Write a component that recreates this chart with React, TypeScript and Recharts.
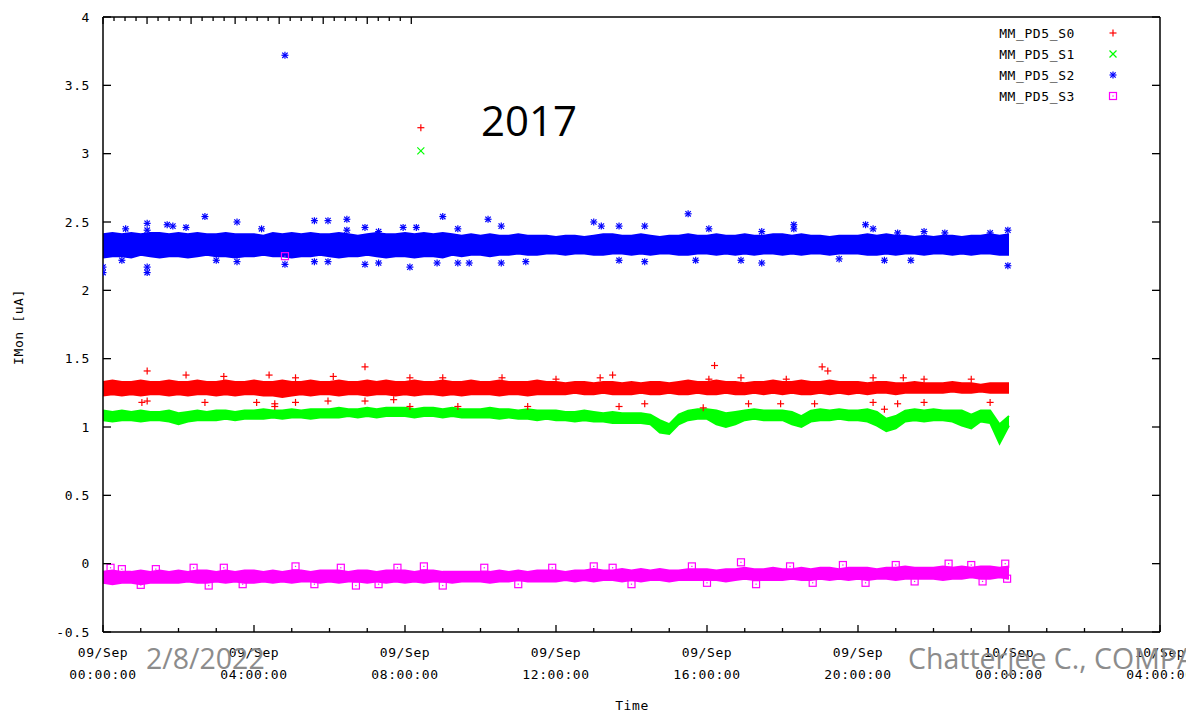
import React from 'react';
import { ComposedChart, Area, Scatter, XAxis, YAxis, Legend } from 'recharts';

// Monitored HV currents of four sectors, 09/Sep 00:00 - 10/Sep 00:00
const SERIES_NAMES = ['MM_PD5_S0', 'MM_PD5_S1', 'MM_PD5_S2', 'MM_PD5_S3'];
const SERIES_COLORS = ['#ff0000', '#00ff00', '#0000ff', '#ff00ff'];

// The dense readings form a band; each band is kept as its low/high envelope
// sampled every quarter hour (hours since 09/Sep 00:00).
const SAMPLE_STEP_H = 0.25;

const S0_HI = [
  1.33, 1.34, 1.33, 1.33, 1.34, 1.33, 1.33, 1.34,
  1.33, 1.33, 1.34, 1.33, 1.33, 1.34, 1.33, 1.33,
  1.34, 1.33, 1.33, 1.34, 1.33, 1.33, 1.34, 1.33,
  1.33, 1.34, 1.33, 1.33, 1.34, 1.33, 1.34, 1.33,
  1.33, 1.34, 1.33, 1.33, 1.34, 1.33, 1.33, 1.34,
  1.33, 1.33, 1.34, 1.33, 1.33, 1.33, 1.34, 1.33,
  1.33, 1.32, 1.33, 1.33, 1.32, 1.33, 1.33, 1.32,
  1.33, 1.32, 1.33, 1.33, 1.32, 1.33, 1.34, 1.33,
  1.33, 1.34, 1.33, 1.33, 1.32, 1.33, 1.33, 1.34,
  1.33, 1.33, 1.34, 1.33, 1.33, 1.34, 1.33, 1.33,
  1.33, 1.32, 1.33, 1.33, 1.32, 1.32, 1.33, 1.32,
  1.32, 1.32, 1.33, 1.32, 1.32, 1.31, 1.32, 1.32, 1.32,
];
const S0_LO = [
  1.23, 1.24, 1.23, 1.24, 1.23, 1.24, 1.24, 1.23,
  1.24, 1.23, 1.24, 1.24, 1.23, 1.24, 1.23, 1.24,
  1.24, 1.23, 1.23, 1.22, 1.23, 1.24, 1.23, 1.24,
  1.24, 1.23, 1.24, 1.24, 1.23, 1.24, 1.24, 1.23,
  1.24, 1.23, 1.24, 1.24, 1.23, 1.24, 1.23, 1.24,
  1.24, 1.24, 1.23, 1.24, 1.24, 1.23, 1.24, 1.24,
  1.24, 1.24, 1.25, 1.24, 1.24, 1.25, 1.24, 1.24,
  1.24, 1.25, 1.24, 1.24, 1.25, 1.24, 1.24, 1.25,
  1.24, 1.24, 1.25, 1.24, 1.24, 1.25, 1.24, 1.25,
  1.24, 1.25, 1.24, 1.24, 1.25, 1.24, 1.25, 1.24,
  1.25, 1.24, 1.25, 1.25, 1.24, 1.25, 1.25, 1.25,
  1.25, 1.25, 1.26, 1.25, 1.25, 1.26, 1.25, 1.25, 1.25,
];

const S1_HI = [
  1.12, 1.11, 1.12, 1.11, 1.12, 1.11, 1.11, 1.12,
  1.10, 1.11, 1.12, 1.11, 1.12, 1.12, 1.11, 1.12,
  1.12, 1.13, 1.12, 1.12, 1.13, 1.12, 1.13, 1.13,
  1.13, 1.14, 1.13, 1.13, 1.14, 1.13, 1.14, 1.14,
  1.14, 1.13, 1.14, 1.14, 1.13, 1.14, 1.13, 1.13,
  1.13, 1.14, 1.13, 1.13, 1.12, 1.13, 1.12, 1.12,
  1.12, 1.11, 1.11, 1.12, 1.11, 1.10, 1.11, 1.10,
  1.10, 1.10, 1.09, 1.05, 1.02, 1.09, 1.12, 1.13,
  1.13, 1.12, 1.10, 1.11, 1.12, 1.13, 1.12, 1.12,
  1.12, 1.11, 1.08, 1.12, 1.13, 1.12, 1.13, 1.12,
  1.12, 1.13, 1.11, 1.06, 1.08, 1.12, 1.13, 1.12,
  1.13, 1.12, 1.12, 1.12, 1.09, 1.12, 1.12, 1.02, 1.08,
];
const S1_LO = [
  1.05, 1.04, 1.05, 1.05, 1.04, 1.05, 1.05, 1.04,
  1.02, 1.04, 1.05, 1.05, 1.05, 1.06, 1.05, 1.06,
  1.06, 1.06, 1.07, 1.06, 1.07, 1.07, 1.06, 1.07,
  1.07, 1.07, 1.08, 1.07, 1.08, 1.07, 1.08, 1.08,
  1.08, 1.07, 1.08, 1.08, 1.07, 1.08, 1.07, 1.07,
  1.07, 1.07, 1.06, 1.07, 1.06, 1.06, 1.05, 1.06,
  1.05, 1.05, 1.04, 1.05, 1.04, 1.04, 1.03, 1.03,
  1.03, 1.03, 1.02, 0.96, 0.95, 1.02, 1.05, 1.06,
  1.06, 1.02, 1.00, 1.02, 1.05, 1.06, 1.05, 1.05,
  1.05, 1.02, 1.00, 1.04, 1.05, 1.05, 1.06, 1.05,
  1.05, 1.04, 1.01, 0.97, 0.99, 1.04, 1.05, 1.04,
  1.05, 1.05, 1.04, 1.01, 0.99, 1.04, 1.03, 0.88, 1.01,
];

const S2_HI = [
  2.41, 2.42, 2.41, 2.42, 2.41, 2.42, 2.42, 2.41,
  2.42, 2.41, 2.42, 2.41, 2.41, 2.42, 2.41, 2.41,
  2.41, 2.40, 2.42, 2.41, 2.42, 2.41, 2.42, 2.41,
  2.41, 2.42, 2.41, 2.40, 2.41, 2.42, 2.41, 2.41,
  2.42, 2.41, 2.42, 2.41, 2.42, 2.41, 2.40, 2.41,
  2.40, 2.41, 2.40, 2.40, 2.41, 2.40, 2.40, 2.40,
  2.39, 2.40, 2.40, 2.39, 2.40, 2.41, 2.41, 2.40,
  2.40, 2.41, 2.40, 2.39, 2.40, 2.40, 2.41, 2.40,
  2.40, 2.41, 2.40, 2.40, 2.41, 2.40, 2.40, 2.41,
  2.41, 2.40, 2.41, 2.40, 2.40, 2.39, 2.40, 2.40,
  2.40, 2.41, 2.40, 2.41, 2.40, 2.40, 2.39, 2.40,
  2.39, 2.40, 2.40, 2.39, 2.40, 2.40, 2.41, 2.40, 2.41,
];
const S2_LO = [
  2.24, 2.25, 2.25, 2.24, 2.26, 2.25, 2.24, 2.25,
  2.25, 2.24, 2.25, 2.26, 2.25, 2.25, 2.24, 2.25,
  2.25, 2.26, 2.25, 2.25, 2.24, 2.25, 2.25, 2.26,
  2.25, 2.24, 2.25, 2.25, 2.26, 2.25, 2.24, 2.25,
  2.25, 2.24, 2.25, 2.25, 2.24, 2.26, 2.25, 2.26,
  2.26, 2.25, 2.26, 2.26, 2.27, 2.26, 2.26, 2.27,
  2.27, 2.26, 2.27, 2.27, 2.26, 2.26, 2.27, 2.27,
  2.26, 2.27, 2.26, 2.27, 2.27, 2.26, 2.26, 2.27,
  2.27, 2.26, 2.27, 2.26, 2.27, 2.26, 2.27, 2.27,
  2.26, 2.27, 2.26, 2.27, 2.27, 2.26, 2.27, 2.27,
  2.27, 2.26, 2.26, 2.27, 2.26, 2.27, 2.27, 2.26,
  2.27, 2.27, 2.26, 2.27, 2.26, 2.27, 2.27, 2.26, 2.26,
];

const S3_HI = [
  -0.06, -0.05, -0.06, -0.06, -0.05, -0.06, -0.05, -0.06,
  -0.05, -0.06, -0.05, -0.05, -0.06, -0.05, -0.06, -0.05,
  -0.05, -0.06, -0.05, -0.06, -0.05, -0.05, -0.06, -0.05,
  -0.05, -0.05, -0.06, -0.05, -0.05, -0.06, -0.05, -0.05,
  -0.05, -0.06, -0.05, -0.05, -0.06, -0.06, -0.06, -0.06,
  -0.06, -0.06, -0.05, -0.06, -0.05, -0.06, -0.05, -0.05,
  -0.05, -0.06, -0.05, -0.05, -0.04, -0.05, -0.05, -0.04,
  -0.05, -0.04, -0.05, -0.04, -0.05, -0.05, -0.04, -0.04,
  -0.04, -0.05, -0.04, -0.04, -0.03, -0.04, -0.04, -0.03,
  -0.04, -0.04, -0.03, -0.04, -0.03, -0.03, -0.04, -0.03,
  -0.03, -0.03, -0.04, -0.03, -0.03, -0.02, -0.03, -0.03,
  -0.03, -0.02, -0.03, -0.02, -0.03, -0.02, -0.02, -0.03, -0.02,
];
const S3_LO = [
  -0.14, -0.15, -0.14, -0.14, -0.15, -0.14, -0.14, -0.14,
  -0.14, -0.13, -0.14, -0.14, -0.13, -0.14, -0.13, -0.14,
  -0.14, -0.13, -0.14, -0.13, -0.14, -0.13, -0.13, -0.14,
  -0.13, -0.14, -0.13, -0.13, -0.14, -0.13, -0.14, -0.13,
  -0.14, -0.13, -0.14, -0.13, -0.13, -0.14, -0.13, -0.13,
  -0.13, -0.14, -0.13, -0.13, -0.12, -0.13, -0.13, -0.13,
  -0.13, -0.12, -0.13, -0.12, -0.13, -0.12, -0.12, -0.13,
  -0.12, -0.13, -0.12, -0.12, -0.13, -0.12, -0.12, -0.12,
  -0.12, -0.12, -0.13, -0.12, -0.11, -0.12, -0.12, -0.12,
  -0.12, -0.11, -0.12, -0.12, -0.11, -0.12, -0.11, -0.12,
  -0.11, -0.12, -0.11, -0.11, -0.12, -0.11, -0.11, -0.11,
  -0.11, -0.12, -0.11, -0.11, -0.10, -0.11, -0.11, -0.10, -0.11,
];

// Isolated readings outside the bands: [hour, current]
const S0_SPIKES = [
  [1.03, 1.18], [1.17, 1.41], [1.17, 1.19], [2.2, 1.38], [2.7, 1.18], [3.2, 1.37],
  [4.07, 1.18], [4.4, 1.38], [4.55, 1.17], [4.55, 1.15], [5.1, 1.36], [5.1, 1.18],
  [5.96, 1.19], [6.1, 1.37], [6.94, 1.44], [6.94, 1.19], [7.7, 1.2], [8.13, 1.36],
  [8.13, 1.15], [8.42, 3.19], [9.0, 1.36], [9.4, 1.15], [10.57, 1.36], [11.25, 1.15],
  [12.0, 1.35], [13.17, 1.36], [13.5, 1.38], [13.67, 1.15], [14.35, 1.17], [15.9, 1.14],
  [16.05, 1.35], [16.2, 1.45], [16.9, 1.36], [17.1, 1.17], [17.95, 1.17], [18.1, 1.35],
  [18.85, 1.17], [19.05, 1.44], [19.2, 1.41], [20.4, 1.36], [20.4, 1.18], [20.7, 1.13],
  [21.05, 1.17], [21.2, 1.36], [21.75, 1.35], [21.75, 1.18], [23.0, 1.35], [23.5, 1.18],
];
const S1_SPIKES = [[8.42, 3.02]];
const S2_SPIKES = [
  [0.0, 2.17], [0.0, 2.13], [0.5, 2.22], [0.6, 2.45], [1.17, 2.49], [1.17, 2.44],
  [1.17, 2.17], [1.17, 2.13], [1.7, 2.48], [1.85, 2.47], [2.2, 2.46], [2.7, 2.54],
  [3.0, 2.22], [3.55, 2.5], [3.55, 2.21], [4.2, 2.45], [4.82, 3.72], [4.82, 2.19],
  [5.6, 2.51], [5.6, 2.21], [5.96, 2.51], [5.96, 2.21], [6.46, 2.52], [6.46, 2.44],
  [6.94, 2.46], [6.94, 2.19], [7.3, 2.43], [7.3, 2.2], [7.95, 2.46], [8.13, 2.17],
  [8.3, 2.46], [8.85, 2.2], [9.0, 2.54], [9.4, 2.45], [9.4, 2.2], [9.7, 2.2],
  [10.2, 2.52], [10.55, 2.47], [10.55, 2.2], [11.2, 2.21], [13.0, 2.5], [13.2, 2.47],
  [13.67, 2.47], [13.67, 2.22], [14.35, 2.47], [14.35, 2.21], [15.5, 2.56], [15.7, 2.22],
  [16.05, 2.45], [16.9, 2.22], [17.45, 2.43], [17.45, 2.2], [18.3, 2.45], [18.3, 2.48],
  [19.5, 2.23], [20.2, 2.48], [20.4, 2.45], [20.7, 2.22], [21.05, 2.42], [21.4, 2.22],
  [21.75, 2.43], [22.3, 2.42], [23.5, 2.42], [23.97, 2.44], [23.97, 2.18],
];
const S3_SPIKES = [
  [0.2, -0.03], [0.5, -0.04], [1.0, -0.155], [1.4, -0.04], [2.4, -0.03], [2.8, -0.16],
  [3.2, -0.03], [3.7, -0.15], [4.82, 2.25], [5.1, -0.02], [5.6, -0.15], [6.3, -0.03],
  [6.7, -0.16], [7.3, -0.15], [7.8, -0.03], [8.5, -0.02], [9.0, -0.16], [10.1, -0.03],
  [11.0, -0.15], [11.9, -0.03], [13.0, -0.02], [13.5, -0.03], [14.0, -0.15], [15.6, -0.02],
  [16.0, -0.14], [16.9, 0.01], [17.3, -0.15], [18.2, -0.02], [18.8, -0.14], [19.6, -0.01],
  [20.2, -0.14], [21.0, -0.01], [21.5, -0.13], [22.4, 0.0], [23.0, -0.01], [23.3, -0.13],
  [23.9, 0.0], [23.95, -0.11],
];

// Axes
const HOUR_TICKS = [
  0, 1, 2, 3, 4, 5, 6, 7, 8, 9, 10, 11, 12, 13, 14,
  15, 16, 17, 18, 19, 20, 21, 22, 23, 24, 25, 26, 27, 28,
];
const TIME_LABELS: Record<number, [string, string]> = {
  0: ['09/Sep', '00:00:00'],
  4: ['09/Sep', '04:00:00'],
  8: ['09/Sep', '08:00:00'],
  12: ['09/Sep', '12:00:00'],
  16: ['09/Sep', '16:00:00'],
  20: ['09/Sep', '20:00:00'],
  24: ['10/Sep', '00:00:00'],
  28: ['10/Sep', '04:00:00'],
};
const Y_TICKS = [-0.5, 0, 0.5, 1, 1.5, 2, 2.5, 3, 3.5, 4];

const MONO = '"DejaVu Sans Mono", "Liberation Mono", monospace';
const MONO_SIZE = 13;
const MONO_SPACING = 0.6;
const SLIDE_FONT = '"Open Sans", "Noto Sans", sans-serif';

const bandRows = S0_HI.map((_, i) => ({
  t: i * SAMPLE_STEP_H,
  s0: [S0_LO[i], S0_HI[i]],
  s1: [S1_LO[i], S1_HI[i]],
  s2: [S2_LO[i], S2_HI[i]],
  s3: [S3_LO[i], S3_HI[i]],
}));

const toPoints = (list: number[][]) => list.map(([t, v]) => ({ t, v }));

// gnuplot-style point glyphs
const R = 3.5;
const PlusGlyph = ({ cx, cy, color }: any) => (
  <g stroke={color} strokeWidth={1.2}>
    <line x1={cx - R} y1={cy} x2={cx + R} y2={cy} />
    <line x1={cx} y1={cy - R} x2={cx} y2={cy + R} />
  </g>
);
const CrossGlyph = ({ cx, cy, color }: any) => (
  <g stroke={color} strokeWidth={1.2}>
    <line x1={cx - R} y1={cy - R} x2={cx + R} y2={cy + R} />
    <line x1={cx - R} y1={cy + R} x2={cx + R} y2={cy - R} />
  </g>
);
const StarGlyph = ({ cx, cy, color }: any) => (
  <g stroke={color} strokeWidth={1.2}>
    <line x1={cx - R} y1={cy} x2={cx + R} y2={cy} />
    <line x1={cx} y1={cy - R} x2={cx} y2={cy + R} />
    <line x1={cx - R + 0.8} y1={cy - R + 0.8} x2={cx + R - 0.8} y2={cy + R - 0.8} />
    <line x1={cx - R + 0.8} y1={cy + R - 0.8} x2={cx + R - 0.8} y2={cy - R + 0.8} />
  </g>
);
const BoxGlyph = ({ cx, cy, color }: any) => (
  <g>
    <rect x={cx - R} y={cy - R} width={2 * R} height={2 * R} fill="none" stroke={color} strokeWidth={1.2} />
    <rect x={cx - 0.6} y={cy - 0.6} width={1.2} height={1.2} fill={color} />
  </g>
);
const GLYPHS = [PlusGlyph, CrossGlyph, StarGlyph, BoxGlyph];

const glyphShape = (idx: number) => (props: any) => {
  const G = GLYPHS[idx];
  if (props.cx == null || props.cy == null) return <g />;
  return <G cx={props.cx} cy={props.cy} color={SERIES_COLORS[idx]} />;
};

// Inward ticks on all four sides
const BottomTick = (props: any) => {
  const { x, y, payload } = props;
  const v = payload.value;
  const major = v % 4 === 0;
  const lab = TIME_LABELS[v];
  return (
    <g>
      <line x1={x} y1={y} x2={x} y2={y - (major ? 7 : 4)} stroke="#000" strokeWidth={1.3} />
      {lab && (
        <text
          x={x}
          y={y + 25}
          textAnchor="middle"
          fontFamily={MONO}
          fontSize={MONO_SIZE}
          letterSpacing={MONO_SPACING}
          fill="#000"
        >
          <tspan x={x}>{lab[0]}</tspan>
          <tspan x={x} dy={22}>{lab[1]}</tspan>
        </text>
      )}
    </g>
  );
};
const TopTick = (props: any) => {
  const { x, y, payload } = props;
  const major = payload.value % 4 === 0;
  return <line x1={x} y1={y} x2={x} y2={y + (major ? 7 : 4)} stroke="#000" strokeWidth={1.3} />;
};
const LeftTick = (props: any) => {
  const { x, y, payload } = props;
  return (
    <g>
      <line x1={x} y1={y} x2={x + 8} y2={y} stroke="#000" strokeWidth={1.3} />
      <text
        x={x - 13}
        y={y + 4.5}
        textAnchor="end"
        fontFamily={MONO}
        fontSize={MONO_SIZE}
        letterSpacing={MONO_SPACING}
        fill="#000"
      >
        {String(payload.value)}
      </text>
    </g>
  );
};
const RightTick = (props: any) => {
  const { x, y } = props;
  return <line x1={x} y1={y} x2={x - 8} y2={y} stroke="#000" strokeWidth={1.3} />;
};

const LegendBox = () => (
  <svg width={170} height={90}>
    {SERIES_NAMES.map((name, i) => {
      const cy = 13 + i * 21;
      const G = GLYPHS[i];
      return (
        <g key={name}>
          <text
            x={85}
            y={cy + 4.5}
            textAnchor="end"
            fontFamily={MONO}
            fontSize={MONO_SIZE}
            letterSpacing={MONO_SPACING}
            fill="#000"
          >
            {name}
          </text>
          <G cx={123} cy={cy} color={SERIES_COLORS[i]} />
        </g>
      );
    })}
  </svg>
);

const axisLine = { stroke: '#000', strokeWidth: 1.5 };

export default function App() {
  const bandKeys = ['s0', 's1', 's2', 's3'];
  const spikes = [S0_SPIKES, S1_SPIKES, S2_SPIKES, S3_SPIKES];
  return (
    <div style={{ position: 'absolute', left: 0, top: 0, width: 1186, height: 714, background: '#fff', overflow: 'hidden' }}>
      <ComposedChart
        width={1186}
        height={714}
        data={bandRows}
        margin={{ top: 0, right: 0, bottom: 0, left: 0 }}
      >
        <XAxis
          xAxisId="b"
          dataKey="t"
          type="number"
          domain={[0, 28]}
          ticks={HOUR_TICKS}
          interval={0}
          allowDataOverflow
          height={82}
          tickSize={0}
          tickMargin={0}
          tickLine={false}
          axisLine={axisLine}
          tick={<BottomTick />}
        />
        <XAxis
          xAxisId="t"
          orientation="top"
          type="number"
          domain={[0, 28]}
          ticks={HOUR_TICKS}
          interval={0}
          allowDataOverflow
          height={17}
          tickSize={0}
          tickMargin={0}
          tickLine={false}
          axisLine={axisLine}
          tick={<TopTick />}
        />
        <YAxis
          yAxisId="l"
          type="number"
          domain={[-0.5, 4]}
          ticks={Y_TICKS}
          interval={0}
          allowDataOverflow
          width={103}
          tickSize={0}
          tickMargin={0}
          tickLine={false}
          axisLine={axisLine}
          tick={<LeftTick />}
        />
        <YAxis
          yAxisId="r"
          orientation="right"
          type="number"
          domain={[-0.5, 4]}
          ticks={Y_TICKS}
          interval={0}
          allowDataOverflow
          width={26}
          tickSize={0}
          tickMargin={0}
          tickLine={false}
          axisLine={axisLine}
          tick={<RightTick />}
        />
        {bandKeys.map((k, i) => (
          <Area
            key={k}
            xAxisId="b"
            yAxisId="l"
            type="linear"
            dataKey={k}
            name={SERIES_NAMES[i]}
            stroke={SERIES_COLORS[i]}
            strokeWidth={2}
            fill={SERIES_COLORS[i]}
            fillOpacity={1}
            dot={false}
            activeDot={false}
            isAnimationActive={false}
          />
        ))}
        {spikes.map((list, i) => (
          <Scatter
            key={'sp' + i}
            xAxisId="b"
            yAxisId="l"
            data={toPoints(list)}
            dataKey="v"
            legendType="none"
            shape={glyphShape(i)}
            isAnimationActive={false}
          />
        ))}
        <Legend
          layout="vertical"
          align="center"
          verticalAlign="middle"
          content={() => <LegendBox />}
          wrapperStyle={{ position: 'absolute', left: 990, top: 20, width: 170, height: 90 }}
        />
      </ComposedChart>
      <div
        style={{
          position: 'absolute', left: 18, top: 327, transform: 'translate(-50%, -50%) rotate(-90deg)',
          fontFamily: MONO, fontSize: MONO_SIZE, letterSpacing: MONO_SPACING, whiteSpace: 'nowrap', color: '#000',
        }}
      >
        IMon [uA]
      </div>
      <div
        style={{
          position: 'absolute', left: 632, top: 705, transform: 'translate(-50%, -50%)',
          fontFamily: MONO, fontSize: MONO_SIZE, letterSpacing: MONO_SPACING, color: '#000',
        }}
      >
        Time
      </div>
      <div style={{ position: 'absolute', left: 481, top: 99, fontFamily: SLIDE_FONT, fontSize: 42, color: '#000', lineHeight: 1 }}>
        2017
      </div>
      <div style={{ position: 'absolute', left: 146, top: 644, fontFamily: SLIDE_FONT, fontSize: 28.5, color: '#8c8c8c', lineHeight: 1 }}>
        2/8/2022
      </div>
      <div
        style={{
          position: 'absolute', left: 908, top: 644, fontFamily: SLIDE_FONT, fontSize: 28.5, color: '#8c8c8c',
          lineHeight: 1, whiteSpace: 'nowrap',
        }}
      >
        Chatterjee C., COMPASS
      </div>
    </div>
  );
}
